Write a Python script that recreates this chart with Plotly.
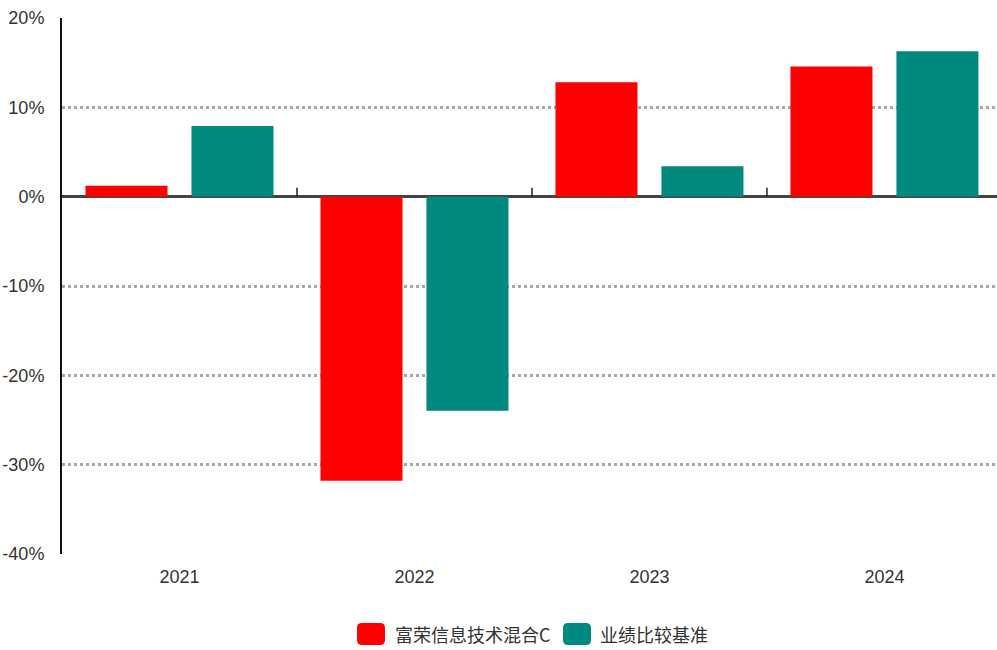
import plotly.graph_objects as go

years = ["2021", "2022", "2023", "2024"]
fund_name = "富荣信息技术混合C"
bench_name = "业绩比较基准"
fund_returns = [1.23, -31.8, 12.8, 14.56]
bench_returns = [7.92, -23.96, 3.40, 16.28]
y_ticks = [-40, -30, -20, -10, 0, 10, 20]

RED = "#FF0000"
TEAL = "#00897F"
W, H = 997, 650
# plot area in page pixels
PL, PT, PR, PB = 62, 18, 997, 554
L, T, R, B = PL, PT, W - PR, H - PB
PW, PH = PR - PL, PB - PT

def px2paper(px, py):
    return (px - PL) / PW, (PB - py) / PH

def rounded_rect(x0, y0, x1, y1, r):
    def p(x, y):
        a, b = px2paper(x, y)
        return f"{a:.5f},{b:.5f}"
    return (f"M {p(x0 + r, y0)} L {p(x1 - r, y0)} Q {p(x1, y0)} {p(x1, y0 + r)} "
            f"L {p(x1, y1 - r)} Q {p(x1, y1)} {p(x1 - r, y1)} L {p(x0 + r, y1)} "
            f"Q {p(x0, y1)} {p(x0, y1 - r)} L {p(x0, y0 + r)} Q {p(x0, y0)} {p(x0 + r, y0)} Z")

fig = go.Figure()
fig.add_trace(go.Bar(x=years, y=fund_returns, name=fund_name, marker_color=RED,
                     marker_line_width=0, showlegend=False))
fig.add_trace(go.Bar(x=years, y=bench_returns, name=bench_name, marker_color=TEAL,
                     marker_line_width=0, showlegend=False))

shapes = []
for b in [0.5, 1.5, 2.5]:
    shapes.append(dict(type="line", xref="x", yref="y", x0=b, x1=b, y0=0, y1=1.0,
                       line=dict(color="#222", width=1.5)))
shapes.append(dict(type="path", xref="paper", yref="paper",
                   path=rounded_rect(357, 623, 385, 645, 5), fillcolor=RED, line_width=0))
shapes.append(dict(type="path", xref="paper", yref="paper",
                   path=rounded_rect(563, 623, 591, 645, 5), fillcolor=TEAL, line_width=0))

annotations = []
for px, txt in [(393, fund_name), (598, bench_name)]:
    ax, ay = px2paper(px, 634)
    annotations.append(dict(x=ax, y=ay, xref="paper", yref="paper", text=txt,
                            showarrow=False, xanchor="left", yanchor="middle",
                            font=dict(family="Noto Sans CJK SC", size=18, color="#333")))

fig.update_layout(
    width=W, height=H,
    margin=dict(l=L, r=R, t=T, b=B, pad=0),
    paper_bgcolor="white", plot_bgcolor="white",
    barmode="group", bargap=0.098, bargroupgap=0.226,
    shapes=shapes, annotations=annotations,
    font=dict(family="Liberation Sans, Arial", color="#333"),
)
fig.update_xaxes(
    type="category", range=[-0.5, 3.479], showgrid=False, zeroline=False,
    showline=False, ticks="", tickfont=dict(size=18, color="#333"),
    ticklabelstandoff=10, automargin=False,
)
fig.update_yaxes(
    range=[-40, 20], tickvals=y_ticks, ticktext=[f"{v}%" for v in y_ticks],
    showgrid=True, gridcolor="#A8A8A8", gridwidth=2.5, griddash="dot",
    zeroline=True, zerolinecolor="#444444", zerolinewidth=2.5,
    showline=True, linecolor="#111", linewidth=2, ticks="",
    tickfont=dict(size=18, color="#333"), ticklabelstandoff=12, automargin=False,
)

fig.write_html(
    "out.html",
    config={"displayModeBar": False},
    post_script="document.body.style.margin='0';document.body.style.overflow='hidden';",
)
